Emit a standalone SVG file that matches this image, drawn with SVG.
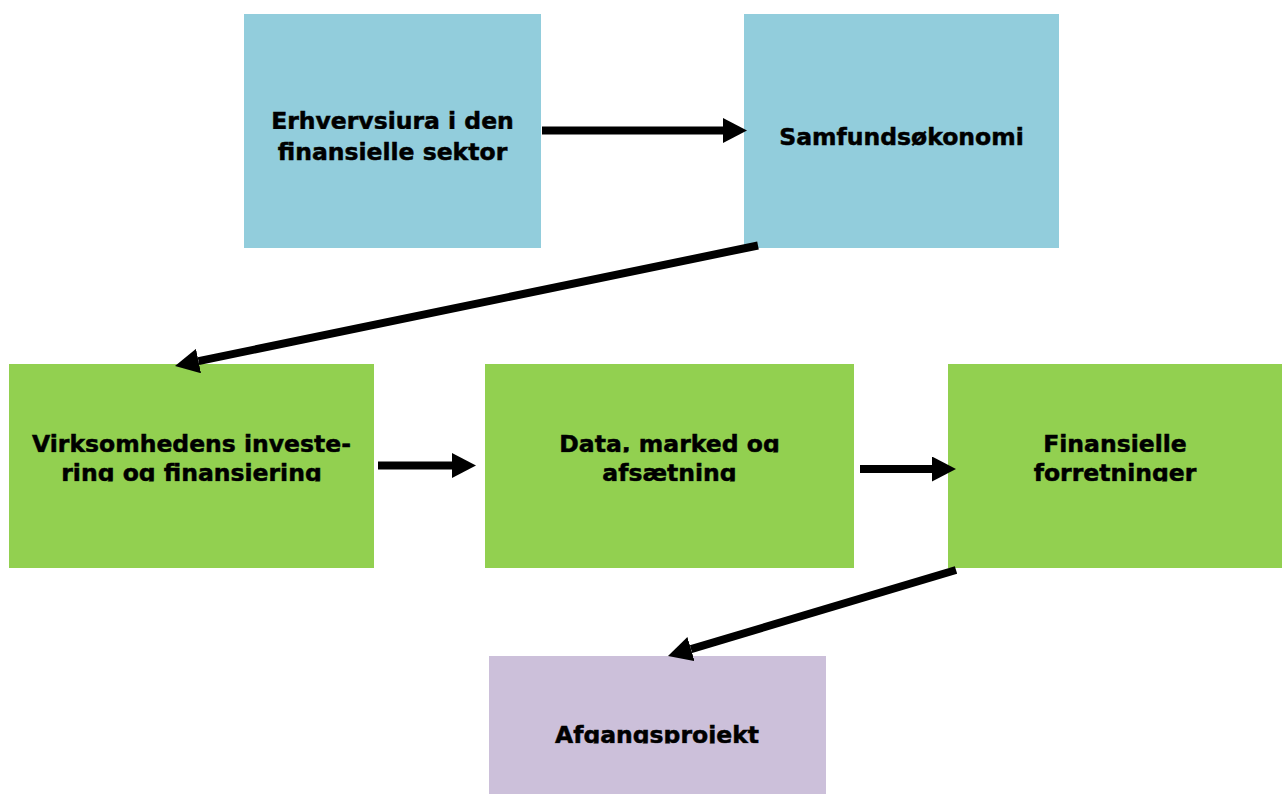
<svg xmlns="http://www.w3.org/2000/svg" width="1282" height="794" viewBox="0 0 1282 794">
<style>
.blue{fill:#92CDDC}
.green{fill:#92D050}
.purple{fill:#CCC0DA}
.lbl{font-family:"DejaVu Sans","Liberation Sans",sans-serif;font-weight:bold;font-size:23.5px;fill:#000;stroke:#000;stroke-width:0.5;text-anchor:middle}
.conn{stroke:#000;stroke-width:8;fill:none;marker-end:url(#ah)}
</style>
<defs>
<marker id="ah" markerUnits="userSpaceOnUse" markerWidth="24" markerHeight="25" viewBox="0 0 24 25" refX="0" refY="12.5" orient="auto">
<path d="M0,0 L24,12.5 L0,25 Z" fill="#000"/>
</marker>
<clipPath id="c1a" clipPathUnits="userSpaceOnUse"><rect x="244" y="95" width="297" height="34"/></clipPath>
<clipPath id="c1b" clipPathUnits="userSpaceOnUse"><rect x="244" y="131" width="297" height="30"/></clipPath>
<clipPath id="c2" clipPathUnits="userSpaceOnUse"><rect x="744" y="110" width="315" height="36"/></clipPath>
<clipPath id="c3a" clipPathUnits="userSpaceOnUse"><rect x="9" y="420" width="365" height="32.5"/></clipPath>
<clipPath id="c3b" clipPathUnits="userSpaceOnUse"><rect x="9" y="455" width="365" height="26.5"/></clipPath>
<clipPath id="c4a" clipPathUnits="userSpaceOnUse"><rect x="485" y="420" width="369" height="32.5"/></clipPath>
<clipPath id="c4b" clipPathUnits="userSpaceOnUse"><rect x="485" y="455" width="369" height="26.5"/></clipPath>
<clipPath id="c5a" clipPathUnits="userSpaceOnUse"><rect x="948" y="420" width="334" height="32.5"/></clipPath>
<clipPath id="c5b" clipPathUnits="userSpaceOnUse"><rect x="948" y="455" width="334" height="26.5"/></clipPath>
<clipPath id="c6" clipPathUnits="userSpaceOnUse"><rect x="489" y="710" width="337" height="33.5"/></clipPath>
</defs>
<rect width="1282" height="794" fill="#fff"/>
<g id="node-erhvervsjura">
<rect class="blue" x="244" y="14" width="297" height="234"/>
<text class="lbl" x="392.5" y="129" clip-path="url(#c1a)">Erhvervsjura i den</text>
<text class="lbl" x="392.5" y="160" clip-path="url(#c1b)">finansielle sektor</text>
</g>
<g id="node-samfundsokonomi">
<rect class="blue" x="744" y="14" width="315" height="234"/>
<text class="lbl" x="901.5" y="145" clip-path="url(#c2)">Samfundsøkonomi</text>
</g>
<g id="node-virksomhedens">
<rect class="green" x="9" y="364" width="365" height="204"/>
<text class="lbl" x="191.5" y="452" clip-path="url(#c3a)">Virksomhedens investe-</text>
<text class="lbl" x="191.5" y="481" clip-path="url(#c3b)">ring og finansiering</text>
</g>
<g id="node-data">
<rect class="green" x="485" y="364" width="369" height="204"/>
<text class="lbl" x="669.5" y="452" clip-path="url(#c4a)">Data, marked og</text>
<text class="lbl" x="669.5" y="481" clip-path="url(#c4b)">afsætning</text>
</g>
<g id="node-finansielle">
<rect class="green" x="948" y="364" width="334" height="204"/>
<text class="lbl" x="1115" y="452" clip-path="url(#c5a)">Finansielle</text>
<text class="lbl" x="1115" y="481" clip-path="url(#c5b)">forretninger</text>
</g>
<g id="node-afgangsprojekt">
<rect class="purple" x="489" y="656" width="337" height="138"/>
<text class="lbl" x="657" y="743" clip-path="url(#c6)">Afgangsprojekt</text>
</g>
<g id="connectors">
<line class="conn" x1="542" y1="130.5" x2="723" y2="130.5"/>
<line class="conn" x1="758" y1="245.5" x2="198.5" y2="361.1"/>
<line class="conn" x1="378" y1="465.5" x2="452" y2="465.5"/>
<line class="conn" x1="860" y1="469" x2="932" y2="469"/>
<line class="conn" x1="956" y1="570" x2="691" y2="649.1"/>
</g>
</svg>
